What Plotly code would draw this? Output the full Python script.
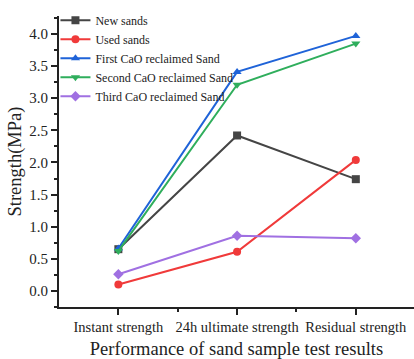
import plotly.graph_objects as go

categories = ["Instant strength", "24h ultimate strength", "Residual strength"]
series_names = ["New sands", "Used sands", "First CaO reclaimed Sand",
                "Second CaO reclaimed Sand", "Third CaO reclaimed Sand"]
new_sands = [0.65, 2.42, 1.74]
used_sands = [0.10, 0.61, 2.04]
first_cao = [0.66, 3.41, 3.97]
second_cao = [0.62, 3.21, 3.85]
third_cao = [0.26, 0.86, 0.82]

values = [new_sands, used_sands, first_cao, second_cao, third_cao]
colors = ["#454545", "#f03a3a", "#1f63d8", "#2fae5c", "#a070e2"]
symbols = ["square", "circle", "triangle-up", "triangle-down", "diamond"]

x_idx = list(range(len(categories)))

fig = go.Figure()
for name, vals, c, s in zip(series_names, values, colors, symbols):
    fig.add_trace(go.Scatter(
        x=x_idx, y=vals, name=name, mode="lines+markers",
        line=dict(color=c, width=2),
        marker=dict(symbol=s, size=8, color=c),
    ))

font_family = "Liberation Serif, Times New Roman, serif"
fig.update_layout(
    width=414, height=359,
    margin=dict(l=59, r=0, t=16, b=52, autoexpand=False),
    paper_bgcolor="white", plot_bgcolor="white",
    font=dict(family=font_family, color="#222222"),
    showlegend=True,
    legend=dict(x=-0.01, y=1.035, xanchor="left", yanchor="top",
                font=dict(size=12, family=font_family, color="#222222"),
                bgcolor="rgba(0,0,0,0)", tracegroupgap=0, itemwidth=30),
    xaxis=dict(
        range=[-0.5, 2.49], tickmode="array", tickvals=x_idx, ticktext=categories,
        showgrid=False, zeroline=False, showline=True, linecolor="#222222", linewidth=2,
        ticks="outside", ticklen=6, tickwidth=1.5, tickcolor="#222222",
        tickfont=dict(size=14.5, family=font_family, color="#222222"),
        minor=dict(tickmode="array", tickvals=[0.5, 1.5], ticks="outside", ticklen=3,
                   tickwidth=1.5, tickcolor="#222222", showgrid=False),
        automargin=False,
        title=dict(text="Performance of sand sample test results",
                   font=dict(size=18.5, family=font_family, color="#222222"), standoff=10),
    ),
    yaxis=dict(
        range=[-0.25, 4.28], tickmode="linear", tick0=0, dtick=0.5, tickformat=".1f",
        showgrid=False, zeroline=False, showline=True, linecolor="#222222", linewidth=2,
        ticks="outside", ticklen=6, tickwidth=1.5, tickcolor="#222222",
        tickfont=dict(size=15, family=font_family, color="#222222"),
        minor=dict(dtick=0.25, tick0=0, ticks="outside", ticklen=3, tickwidth=1.5,
                   tickcolor="#222222", showgrid=False),
        automargin=False,
        title=dict(text="Strength(MPa)",
                   font=dict(size=18.5, family=font_family, color="#222222"), standoff=3),
    ),
)

fig.write_html("out.html")
